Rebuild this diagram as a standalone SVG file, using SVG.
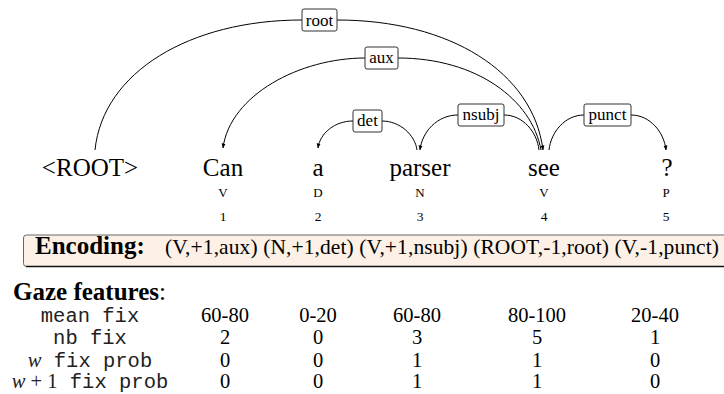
<svg xmlns="http://www.w3.org/2000/svg" width="724" height="394" viewBox="0 0 724 394">
  <defs>
    <marker id="tip" viewBox="0 0 6 6" refX="5.5" refY="3" markerWidth="5" markerHeight="5" markerUnits="userSpaceOnUse" orient="auto-start-reverse">
      <path d="M0,0.6 L6,3 L0,5.4 Z" fill="#000"/>
    </marker>
  </defs>
  <style>
    .word { font-family: "Liberation Serif", "Times New Roman", serif; font-size: 25px; fill: #000; text-anchor: middle; }
    .tag { font-family: "Liberation Serif", "Times New Roman", serif; font-size: 13px; fill: #000; text-anchor: middle; }
    .idx { font-family: "Liberation Serif", "Times New Roman", serif; font-size: 13.5px; fill: #000; text-anchor: middle; }
    .lbl { font-family: "Liberation Serif", "Times New Roman", serif; font-size: 17px; fill: #000; text-anchor: middle; }
    .lblbox { fill: #fff; stroke: #333; stroke-width: 1; }
    .arc { fill: none; stroke: #000; stroke-width: 1; }
    .enc { font-family: "Liberation Serif", "Times New Roman", serif; font-size: 21.5px; fill: #000; }
    .head { font-family: "Liberation Serif", "Times New Roman", serif; font-size: 25px; font-weight: bold; fill: #000; }
    .feat { font-family: "Liberation Mono", "Courier New", monospace; font-size: 20.5px; fill: #222; text-anchor: middle; }
    .val { font-family: "Liberation Serif", "Times New Roman", serif; font-size: 20.5px; fill: #000; text-anchor: middle; }
    .mi { font-family: "Liberation Serif", "Times New Roman", serif; font-style: italic; }
    .mr { font-family: "Liberation Serif", "Times New Roman", serif; }
  </style>

  <!-- dependency arcs -->
  <g id="connectors">
    <!-- root: <ROOT> -> see -->
    <path class="arc" d="M95,150 C103,72 190,20 302,20"/>
    <path class="arc" d="M337,20 C450,20 533,72 543,150" marker-end="url(#tip)"/>
    <!-- aux: see -> Can -->
    <path class="arc" d="M223,148 C230,95 300,58 365,58" marker-start="url(#tip)"/>
    <path class="arc" d="M398,58 C477,58 532,100 541,150"/>
    <!-- det: parser -> a -->
    <path class="arc" d="M318,148 C320,133 335,121 353,121" marker-start="url(#tip)"/>
    <path class="arc" d="M382,121 C400,121 415,135 417,150"/>
    <!-- nsubj: see -> parser -->
    <path class="arc" d="M420,150 C422,132 437,115 458,115" marker-start="url(#tip)"/>
    <path class="arc" d="M504,115 C523,115 537,132 539,150"/>
    <!-- punct: see -> ? -->
    <path class="arc" d="M549,150 C551,132 565,115 584,115"/>
    <path class="arc" d="M631,115 C650,115 664,132 666,150" marker-end="url(#tip)"/>
  </g>

  <!-- arc labels -->
  <g id="label-root"><rect class="lblbox" x="302" y="9" width="35" height="22" rx="2"/><text class="lbl" x="319.5" y="26">root</text></g>
  <g id="label-aux"><rect class="lblbox" x="365" y="47" width="33" height="22" rx="2"/><text class="lbl" x="381.5" y="63">aux</text></g>
  <g id="label-det"><rect class="lblbox" x="353" y="110" width="29" height="22" rx="2"/><text class="lbl" x="367.5" y="126">det</text></g>
  <g id="label-nsubj"><rect class="lblbox" x="458" y="104" width="46" height="22" rx="2"/><text class="lbl" x="481" y="120">nsubj</text></g>
  <g id="label-punct"><rect class="lblbox" x="584" y="104" width="47" height="22" rx="2"/><text class="lbl" x="607.5" y="120">punct</text></g>

  <!-- tokens -->
  <g id="tok-root"><text class="word" x="90" y="176">&lt;ROOT&gt;</text></g>
  <g id="tok-can"><text class="word" x="223" y="176">Can</text><text class="tag" x="223" y="197">V</text><text class="idx" x="223" y="221">1</text></g>
  <g id="tok-a"><text class="word" x="318" y="176">a</text><text class="tag" x="318" y="197">D</text><text class="idx" x="318" y="221">2</text></g>
  <g id="tok-parser"><text class="word" x="420" y="176">parser</text><text class="tag" x="420" y="197">N</text><text class="idx" x="420" y="221">3</text></g>
  <g id="tok-see"><text class="word" x="544" y="176">see</text><text class="tag" x="544" y="197">V</text><text class="idx" x="544" y="221">4</text></g>
  <g id="tok-q"><text class="word" x="667" y="176">?</text><text class="tag" x="666" y="197">P</text><text class="idx" x="666" y="221">5</text></g>

  <!-- encoding strip -->
  <g id="encoding">
    <rect x="23.5" y="235" width="720" height="31.5" rx="3" fill="#fdf0e6" stroke="#666" stroke-width="1"/>
    <line x1="26" y1="266.5" x2="724" y2="266.5" stroke="#111" stroke-width="1.5"/>
    <text class="head" x="35" y="254">Encoding:</text>
    <text class="enc" x="165" y="254" textLength="554" lengthAdjust="spacing">(V,+1,aux) (N,+1,det) (V,+1,nsubj) (ROOT,-1,root) (V,-1,punct)</text>
  </g>

  <!-- gaze feature table -->
  <g id="gaze">
    <text class="head" x="13" y="300">Gaze features<tspan font-weight="normal">:</tspan></text>

    <text class="feat" x="90" y="322">mean fix</text>
    <text class="feat" x="90" y="344">nb fix</text>
    <text class="feat" x="90" y="367"><tspan class="mi">w</tspan> fix prob</text>
    <text class="feat" x="90" y="388"><tspan class="mi">w</tspan><tspan class="mr"> + 1</tspan> fix prob</text>

    <text class="val" x="225" y="322">60-80</text>
    <text class="val" x="318" y="322">0-20</text>
    <text class="val" x="417" y="322">60-80</text>
    <text class="val" x="537" y="322">80-100</text>
    <text class="val" x="655" y="322">20-40</text>

    <text class="val" x="225" y="344">2</text>
    <text class="val" x="318" y="344">0</text>
    <text class="val" x="417" y="344">3</text>
    <text class="val" x="537" y="344">5</text>
    <text class="val" x="655" y="344">1</text>

    <text class="val" x="225" y="367">0</text>
    <text class="val" x="318" y="367">0</text>
    <text class="val" x="417" y="367">1</text>
    <text class="val" x="537" y="367">1</text>
    <text class="val" x="655" y="367">0</text>

    <text class="val" x="225" y="388">0</text>
    <text class="val" x="318" y="388">0</text>
    <text class="val" x="417" y="388">1</text>
    <text class="val" x="537" y="388">1</text>
    <text class="val" x="655" y="388">0</text>
  </g>
</svg>
